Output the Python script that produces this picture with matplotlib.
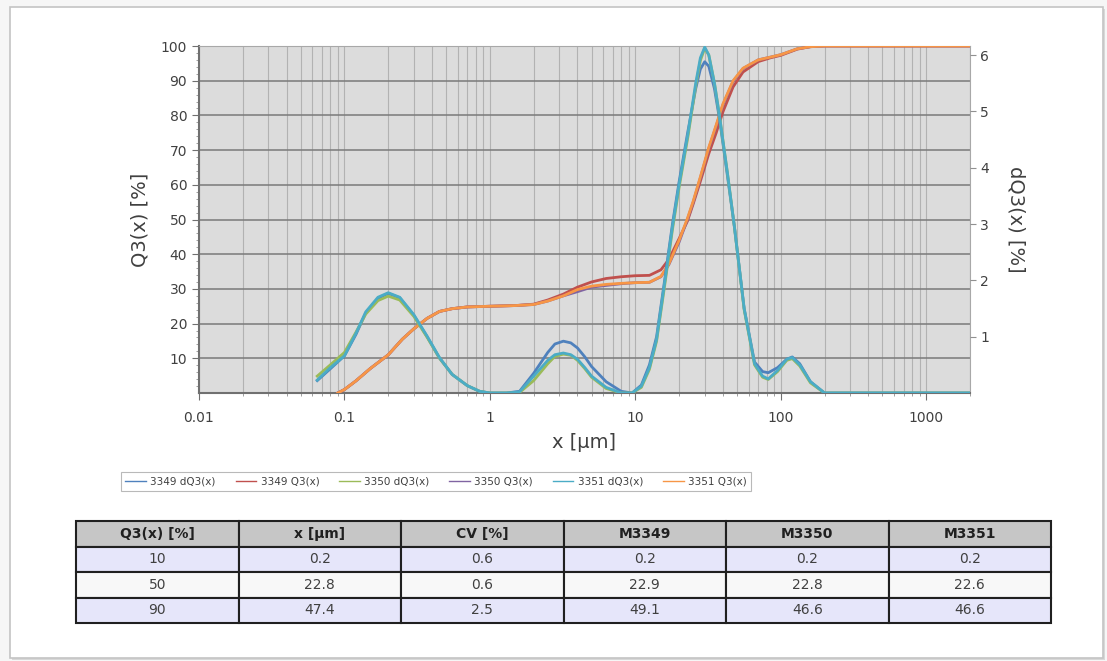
import numpy as np
import matplotlib.pyplot as plt
from matplotlib.patches import Rectangle
from matplotlib.ticker import FixedLocator, NullFormatter, FuncFormatter

# density curves dQ3(x) [%] (right axis)
x_dq = [0.065, 0.08, 0.1, 0.12, 0.14, 0.17, 0.2, 0.24, 0.3, 0.37, 0.45, 0.55, 0.7, 0.85,
        1.0, 1.3, 1.6, 2.0, 2.5, 2.8, 3.2, 3.6, 4.0, 4.5, 5.0, 6.3, 8.0, 9.5, 11, 12.5, 14, 16, 18, 20,
        23, 26, 28, 30, 32, 35, 38, 43, 48, 56, 66, 75, 82, 95, 110, 120, 135, 160, 200,
        300, 500, 1000, 2000]
d3349 = [0.22, 0.43, 0.66, 1.04, 1.42, 1.68, 1.77, 1.69, 1.38, 1.0, 0.62, 0.33, 0.13, 0.03,
         0.0, 0.0, 0.03, 0.35, 0.72, 0.87, 0.92, 0.89, 0.8, 0.64, 0.47, 0.2, 0.03, 0.0, 0.14, 0.5, 1.0, 2.05, 3.0, 3.75,
         4.65, 5.4, 5.75, 5.88, 5.8, 5.4, 4.85, 3.85, 2.95, 1.5, 0.55, 0.38, 0.36, 0.45, 0.6, 0.64, 0.52, 0.2, 0.0,
         0.0, 0.0, 0.0, 0.0]
d3350 = [0.3, 0.5, 0.72, 1.08, 1.4, 1.64, 1.72, 1.65, 1.36, 0.99, 0.62, 0.33, 0.13, 0.03,
         0.0, 0.0, 0.01, 0.22, 0.52, 0.65, 0.69, 0.67, 0.58, 0.43, 0.28, 0.08, 0.0, 0.0, 0.1, 0.42, 0.92, 1.95, 2.9, 3.65,
         4.55, 5.45, 5.9, 6.12, 6.0, 5.5, 4.9, 3.9, 2.95, 1.48, 0.5, 0.28, 0.24, 0.38, 0.58, 0.61, 0.48, 0.18, 0.0,
         0.0, 0.0, 0.0, 0.0]
d3351 = [0.23, 0.45, 0.66, 1.06, 1.44, 1.7, 1.78, 1.7, 1.39, 1.01, 0.63, 0.33, 0.13, 0.03,
         0.0, 0.0, 0.02, 0.3, 0.58, 0.68, 0.71, 0.68, 0.6, 0.45, 0.3, 0.1, 0.0, 0.0, 0.12, 0.45, 0.95, 2.0, 2.95, 3.7,
         4.6, 5.5, 5.95, 6.14, 6.0, 5.5, 4.9, 3.9, 2.95, 1.5, 0.52, 0.3, 0.25, 0.4, 0.6, 0.63, 0.5, 0.2, 0.0,
         0.0, 0.0, 0.0, 0.0]

# cumulative curves Q3(x) [%] (left axis)
x_q = [0.09, 0.1, 0.12, 0.15, 0.2, 0.25, 0.3, 0.37, 0.45, 0.55, 0.7, 1.0, 1.5, 2.0, 2.5, 3.2,
       4.0, 5.0, 6.3, 8.0, 10, 12.5, 15, 17, 20, 22.8, 25, 28, 32, 36, 40, 47, 55, 70, 85,
       100, 130, 160, 200, 2000]
q3349 = [0, 1, 3.5, 7, 11, 15.5, 18.5, 21.5, 23.5, 24.3, 24.8, 25, 25.2, 25.6, 26.8, 28.5,
         30.5, 32, 33, 33.5, 33.8, 33.9, 35.5, 38.5, 44.5, 49.5, 54.5, 61, 69, 75, 81, 88.2, 92.5, 95.5, 96.6,
         97.3, 99.1, 99.8, 100, 100]
q3350 = [0, 1, 3.5, 7, 11, 15.5, 18.5, 21.5, 23.5, 24.3, 24.8, 25, 25.2, 25.5, 26.5, 28,
         29.2, 30.5, 31.0, 31.5, 31.8, 31.9, 33.5, 37, 43.5, 50, 55, 62, 70.5, 77, 83, 89.8, 93.5, 96, 96.8,
         97.5, 99.2, 99.8, 100, 100]
q3351 = [0, 1, 3.5, 7, 11, 15.5, 18.5, 21.5, 23.5, 24.3, 24.8, 25, 25.2, 25.5, 26.5, 28,
         29.8, 30.8, 31.3, 31.6, 31.8, 31.9, 33.6, 37.2, 44, 50.3, 55.3, 62.3, 70.8, 77.3, 83.3, 90, 93.6, 96, 96.8,
         97.5, 99.2, 99.8, 100, 100]

# table
col_labels = ["Q3(x) [%]", "x [µm]", "CV [%]", "M3349", "M3350", "M3351"]
tab_rows = [["10", "0.2", "0.6", "0.2", "0.2", "0.2"],
            ["50", "22.8", "0.6", "22.9", "22.8", "22.6"],
            ["90", "47.4", "2.5", "49.1", "46.6", "46.6"]]

plt.rcParams['font.family'] = ['DejaVu Sans']

W, H = 1107, 661
fig = plt.figure(figsize=(W / 100, H / 100), dpi=100, facecolor='#f6f6f6')
# card frame
fig.patches.append(Rectangle((12 / W, 1 - 660 / H), 1093 / W, 651 / H, transform=fig.transFigure,
                             facecolor='#d8d8d8', edgecolor='none', zorder=-2))
fig.patches.append(Rectangle((10 / W, 1 - 658 / H), 1093 / W, 651 / H, transform=fig.transFigure,
                             facecolor='white', edgecolor='#c4c4c4', lw=1.2, zorder=-1))

ax = fig.add_axes([199 / W, 1 - 393 / H, 771 / W, 347 / H])
ax.set_facecolor('#dcdcdc')
ax.set_xscale('log')
ax.set_xlim(0.01, 2000)
ax.set_ylim(0, 100)
ax2 = ax.twinx()
ax2.set_ylim(0, 6.16)

ax.set_yticks(range(10, 101, 10))
ax.yaxis.set_minor_locator(FixedLocator([v for v in range(2, 100, 2) if v % 10]))
ax.xaxis.set_major_locator(FixedLocator([0.01, 0.1, 1, 10, 100, 1000]))
ax.xaxis.set_major_formatter(FuncFormatter(lambda v, p: ('%g' % v)))
ax.xaxis.set_minor_locator(FixedLocator([m * 10.0 ** e for e in range(-2, 4) for m in range(2, 10)]))
ax.xaxis.set_minor_formatter(NullFormatter())
ax2.set_yticks([1, 2, 3, 4, 5, 6])

ax.grid(True, axis='y', which='major', color='#7a7a7a', lw=1.1)
ax.grid(True, axis='x', which='both', color='#b2b2b2', lw=0.8)
ax.set_axisbelow(True)

ax.tick_params(axis='both', which='major', labelsize=10, labelcolor='#404040', color='#707070', length=5)
ax.tick_params(axis='both', which='minor', color='#909090', length=2.5)
ax.tick_params(axis='x', pad=8)
ax2.tick_params(axis='y', labelsize=10, labelcolor='#404040', color='#909090', length=4)

for s in ['left', 'bottom']:
    ax.spines[s].set_color('#707070')
    ax.spines[s].set_linewidth(1.5)
for s in ['top', 'right']:
    ax.spines[s].set_color('#a8a8a8')
    ax.spines[s].set_linewidth(0.8)
for s in ax2.spines.values():
    s.set_visible(False)

ax.set_xlabel('x [µm]', fontsize=14, color='#404040', labelpad=6)
ax.set_ylabel('Q3(x) [%]', fontsize=14, color='#404040', labelpad=8)
ax2.set_ylabel('dQ3(x) [%]', fontsize=14, color='#404040', rotation=-90, labelpad=26)

lw = 2.0
l1, = ax2.plot(x_dq, d3349, color='#4f81bd', lw=lw, label='3349 dQ3(x)', zorder=3)
l2, = ax.plot(x_q, q3349, color='#c0504d', lw=lw, label='3349 Q3(x)', zorder=3)
l3, = ax2.plot(x_dq, d3350, color='#9bbb59', lw=lw, label='3350 dQ3(x)', zorder=4)
l4, = ax.plot(x_q, q3350, color='#8064a2', lw=lw, label='3350 Q3(x)', zorder=4)
l5, = ax2.plot(x_dq, d3351, color='#4bacc6', lw=lw, label='3351 dQ3(x)', zorder=5)
l6, = ax.plot(x_q, q3351, color='#f79646', lw=lw, label='3351 Q3(x)', zorder=5)

leg = fig.legend(handles=[l1, l2, l3, l4, l5, l6], loc='center', ncol=6,
                 bbox_to_anchor=(436 / W, 1 - 481.5 / H), fontsize=7.5, frameon=True,
                 fancybox=False, edgecolor='#a8a8a8', handlelength=2.0, handletextpad=0.4,
                 columnspacing=1.9, borderpad=0.4)
leg.get_frame().set_linewidth(0.8)
for h in leg.get_lines():
    h.set_linewidth(1.0)
for t in leg.get_texts():
    t.set_color('#404040')

tax = fig.add_axes([76 / W, 1 - 623 / H, 975 / W, 102 / H])
tax.axis('off')
tb = tax.table(cellText=tab_rows, colLabels=col_labels, cellLoc='center', bbox=[0, 0, 1, 1])
tb.auto_set_font_size(False)
row_colors = ['#e6e6fa', '#f8f8f8', '#e6e6fa']
for (r, c), cell in tb.get_celld().items():
    cell.set_edgecolor('#202020')
    cell.set_linewidth(1.5)
    if r == 0:
        cell.set_facecolor('#c6c6c6')
        cell.get_text().set_fontweight('bold')
        cell.get_text().set_fontsize(10)
        cell.get_text().set_color('#202020')
    else:
        cell.set_facecolor(row_colors[r - 1])
        cell.get_text().set_fontsize(10)
        cell.get_text().set_color('#404040')

fig.savefig('out.png', dpi=100, facecolor=fig.get_facecolor())
